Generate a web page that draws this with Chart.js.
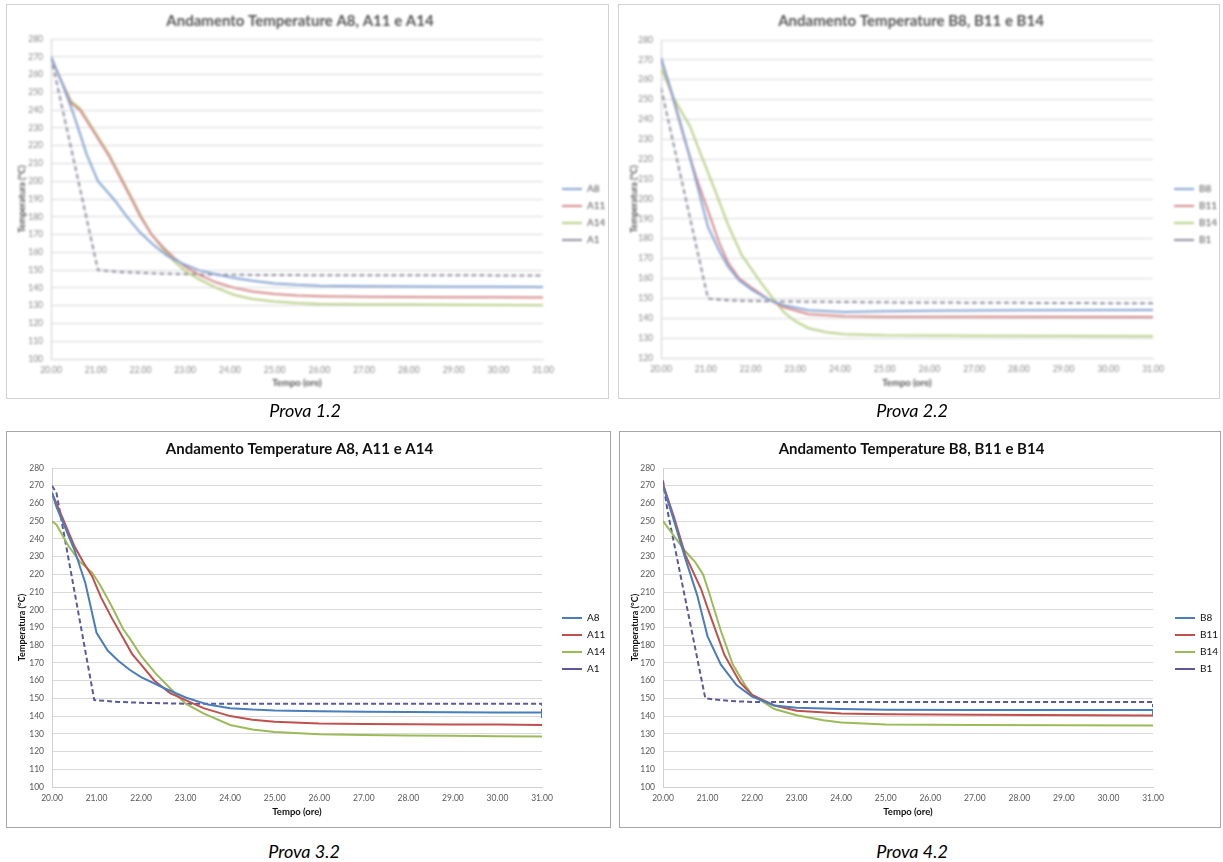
<!DOCTYPE html>
<html>
<head>
<meta charset="utf-8">
<script src="https://cdn.jsdelivr.net/npm/chart.js@4.4.1/dist/chart.umd.min.js"></script>
<style>
    body { margin: 0; background: #fff; width: 1223px; height: 862px; position: relative; overflow: hidden; font-family: Lato, "Open Sans", sans-serif; }
    .panel { position: absolute; box-sizing: border-box; border: 1px solid #a6a6a6; background: #fff; }
    .panel.faded { border-color: #d2d2d2; }
    .panel.faded canvas { filter: blur(0.9px); }
    .box { position: relative; width: 100%; height: 100%; }
    .cap { position: absolute; font: italic 18px Lato, sans-serif; color: #000; transform: translate(-50%, -50%); white-space: nowrap; }
    #p12 { left: 6px; top: 4px; width: 603px; height: 395px; }
    #p22 { left: 618px; top: 4px; width: 602px; height: 395px; }
    #p32 { left: 6px; top: 431px; width: 605px; height: 397px; }
    #p42 { left: 619px; top: 431px; width: 602px; height: 397px; }
</style>
</head>
<body>
<div class="panel faded" id="p12"><div class="box"><canvas id="chart12"></canvas></div></div>
<div class="panel faded" id="p22"><div class="box"><canvas id="chart22"></canvas></div></div>
<div class="panel" id="p32"><div class="box"><canvas id="chart32"></canvas></div></div>
<div class="panel" id="p42"><div class="box"><canvas id="chart42"></canvas></div></div>
<div class="cap" style="left:305px;top:410px">Prova 1.2</div>
<div class="cap" style="left:912px;top:410px">Prova 2.2</div>
<div class="cap" style="left:304px;top:851px">Prova 3.2</div>
<div class="cap" style="left:912px;top:851px">Prova 4.2</div>
<script>
// asse dei tempi (ore)
const hourRange = [20, 31];

// Prova 1.2  [ora, °C]
const p12Labels = ["A8", "A11", "A14", "A1"];
const p12Range = [100, 280];
const p12_A8 = [[20.0, 270], [20.25, 255], [20.5, 238], [20.8, 215], [21.05, 200], [21.4, 190], [21.7, 180], [22.0, 171], [22.3, 164], [22.6, 158], [23.0, 153], [23.3, 150], [23.7, 147.5], [24.1, 145.5], [24.5, 144], [25.0, 142.5], [25.5, 141.7], [26.0, 141.2], [27.0, 140.9], [28.0, 140.8], [29.0, 140.7], [30.0, 140.6], [31.0, 140.5]];
const p12_A11 = [[20.0, 270], [20.2, 258], [20.45, 244], [20.65, 240], [20.85, 232], [21.05, 224], [21.3, 214], [21.55, 202], [21.8, 190], [22.0, 180], [22.25, 170], [22.5, 163], [22.75, 157], [23.0, 152], [23.3, 147.5], [23.7, 143], [24.1, 140], [24.5, 138], [25.0, 136.5], [25.5, 135.7], [26.0, 135.3], [27.0, 135], [28.0, 134.9], [29.0, 134.8], [30.0, 134.7], [31.0, 134.6]];
const p12_A14 = [[20.0, 270], [20.2, 258], [20.45, 245], [20.65, 241], [20.85, 233], [21.05, 225], [21.3, 215], [21.55, 203], [21.8, 191], [22.0, 181], [22.25, 170], [22.5, 162], [22.75, 155], [23.0, 149.5], [23.3, 145], [23.7, 140], [24.1, 136], [24.5, 133.8], [25.0, 132.3], [25.5, 131.5], [26.0, 131], [27.0, 130.7], [28.0, 130.6], [29.0, 130.5], [30.0, 130.4], [31.0, 130.3]];
const p12_A1 = [[20.0, 270], [21.05, 150], [21.5, 149], [22.0, 148.5], [22.5, 148], [23.5, 147.5], [25.0, 147.2], [31.0, 147]];

// Prova 2.2
const p22Labels = ["B8", "B11", "B14", "B1"];
const p22Range = [120, 280];
const p22_B8 = [[20.0, 271], [20.25, 253], [20.5, 233], [20.75, 212], [21.05, 186], [21.3, 174], [21.5, 166], [21.75, 159], [22.05, 154], [22.4, 149.5], [22.75, 146.5], [23.3, 144], [24.1, 143.2], [25.0, 143.5], [26.0, 143.8], [28.0, 144], [31.0, 144.2]];
const p22_B11 = [[20.0, 271], [20.25, 252], [20.5, 232], [20.8, 210], [21.1, 191], [21.3, 178], [21.5, 168], [21.75, 160], [22.05, 155], [22.4, 149.5], [22.75, 145.5], [23.3, 142], [24.1, 141], [25.0, 140.8], [27.0, 140.7], [31.0, 140.6]];
const p22_B14 = [[20.0, 266], [20.3, 250], [20.65, 236.5], [20.9, 222], [21.18, 206], [21.5, 187], [21.8, 172], [22.2, 159], [22.5, 150], [22.75, 143], [23.0, 138.5], [23.3, 135], [23.7, 133], [24.1, 132], [25.0, 131.4], [27.0, 131.2], [31.0, 131]];
const p22_B1 = [[20.0, 256], [21.05, 150], [21.5, 149], [22.5, 148.5], [25.0, 148], [31.0, 147.5]];

// Prova 3.2
const p32Labels = ["A8", "A11", "A14", "A1"];
const p32Range = [100, 280];
const p32_A8 = [[20.0, 266], [20.1, 258], [20.25, 249], [20.5, 234], [20.75, 215], [21.0, 187], [21.25, 177], [21.5, 171], [21.75, 166], [22.0, 162], [22.5, 156], [23.0, 150.5], [23.5, 146.5], [24.0, 144.5], [24.5, 143.7], [25.0, 143.2], [26.0, 142.8], [27.0, 142.5], [28.0, 142.3], [29.0, 142.2], [30.0, 142.1], [31.0, 142], [31.0, 139]];
const p32_A11 = [[20.0, 266], [20.1, 260], [20.3, 248], [20.5, 236], [20.7, 227], [20.9, 219], [21.1, 207], [21.35, 195], [21.6, 184], [21.8, 175], [22.0, 169], [22.3, 160], [22.65, 153], [23.0, 149], [23.4, 144.5], [24.0, 140], [24.5, 138], [25.0, 136.8], [26.0, 135.8], [27.0, 135.5], [28.0, 135.4], [29.0, 135.3], [30.0, 135.2], [31.0, 135]];
const p32_A14 = [[20.0, 250], [20.1, 248], [20.37, 236], [20.63, 227], [20.9, 221], [21.08, 214], [21.34, 202], [21.6, 189], [21.77, 183], [22.0, 174], [22.33, 164], [22.68, 155], [23.0, 147], [23.4, 141.5], [24.0, 135], [24.5, 132.5], [25.0, 131], [26.0, 129.8], [27.0, 129.4], [28.0, 129.1], [29.0, 128.9], [30.0, 128.7], [31.0, 128.5]];
const p32_A1 = [[20.0, 270], [20.1, 266], [20.95, 149], [21.5, 148], [22.0, 147.5], [23.0, 147], [31.0, 147], [31.0, 141]];

// Prova 4.2
const p42Labels = ["B8", "B11", "B14", "B1"];
const p42Range = [100, 280];
const p42_B8 = [[20.0, 270], [20.25, 250], [20.5, 229], [20.77, 208], [21.0, 185], [21.3, 169], [21.65, 157.5], [22.0, 151], [22.5, 146], [23.0, 144.7], [24.0, 144], [25.0, 143.6], [27.0, 143.5], [31.0, 143.5], [31.0, 140]];
const p42_B11 = [[20.0, 271], [20.25, 252], [20.5, 231], [20.85, 212], [21.03, 199], [21.38, 174.5], [21.73, 159], [22.0, 152], [22.5, 146], [23.0, 143], [24.0, 141.5], [25.0, 141], [27.0, 140.8], [31.0, 140.3]];
const p42_B14 = [[20.0, 250], [20.5, 233], [20.72, 227], [20.9, 220], [21.03, 210], [21.3, 188], [21.57, 169], [21.84, 157.5], [22.0, 152], [22.5, 144], [23.0, 140.5], [23.6, 137.7], [24.0, 136.4], [25.0, 135.2], [27.0, 135], [31.0, 134.7]];
const p42_B1 = [[20.0, 273], [20.1, 256], [20.95, 150], [21.5, 148.5], [22.0, 148], [31.0, 148], [31.0, 145]];

const brightColors = ["#4a7ebb", "#c0504d", "#9bbb59", "#5a5a9a"];
const fadedColors = ["#86a3d2", "#d48a8a", "#b9cf86", "#8f8f9f"];

// sposta la legenda nel punto voluto (dopo il layout)
const legendPlace = {
    id: "legendPlace",
    beforeDraw(chart, args, opts) {
        const lg = chart.legend;
        if (!lg) return;
        const pad = lg.options.labels.padding;
        lg.left = opts.x - pad;
        lg.top = opts.y - pad;
        lg.right = lg.left + lg.width;
    },
};

function buildChart(id, spec) {
    const ctx = document.getElementById(id).getContext("2d");
    const datasets = spec.series.map((pts, i) => ({
        label: spec.labels[i],
        data: pts.map(([x, y]) => ({ x, y })),
        borderColor: spec.colors[i],
        backgroundColor: spec.colors[i],
        borderWidth: 2,
        borderDash: i === 3 ? [5, 3] : [],
        pointRadius: 0,
        tension: 0,
        fill: false,
    }));

    return new Chart(ctx, {
        type: "line",
        data: { datasets },
        options: {
            animation: false,
            responsive: true,
            maintainAspectRatio: false,
            events: [],
            layout: { padding: { left: 0, right: spec.padRight, top: 0, bottom: 0 } },
            scales: {
                x: {
                    type: "linear",
                    min: hourRange[0],
                    max: hourRange[1],
                    afterFit: (s) => { s.height = spec.xHeight; },
                    ticks: {
                        stepSize: 1,
                        autoSkip: false,
                        maxRotation: 0,
                        padding: 6,
                        color: spec.tickColor,
                        font: { size: 8.5 },
                        callback: (v) => v.toFixed(2),
                    },
                    grid: { display: false, drawTicks: false },
                    border: { color: "#d0d0d0" },
                    title: {
                        display: true,
                        text: "Tempo (ore)",
                        color: spec.textColor,
                        font: { size: 9.5, weight: "bold" },
                        padding: { top: 0, bottom: 9 },
                    },
                },
                y: {
                    min: spec.range[0],
                    max: spec.range[1],
                    afterFit: (s) => { s.width = spec.yWidth; },
                    ticks: {
                        stepSize: 10,
                        padding: 8,
                        color: spec.tickColor,
                        font: { size: 8.5 },
                    },
                    grid: { color: "#d9d9d9", drawTicks: false },
                    border: { color: "#d0d0d0" },
                    title: {
                        display: true,
                        text: "Temperatura (°C)",
                        color: spec.textColor,
                        font: { size: 9, weight: "bold" },
                        padding: { top: 10, bottom: 0 },
                    },
                },
            },
            plugins: {
                title: {
                    display: true,
                    text: spec.title,
                    color: spec.textColor,
                    font: { size: 15, weight: "bold" },
                    padding: { top: spec.titleTop, bottom: spec.titleBottom },
                },
                legend: {
                    position: "right",
                    align: "start",
                    maxWidth: 50,
                    labels: {
                        usePointStyle: true,
                        pointStyle: "line",
                        pointStyleWidth: 20,
                        padding: 7,
                        color: spec.textColor,
                        font: { size: 10 },
                    },
                },
                tooltip: { enabled: false },
                legendPlace: { x: spec.legendX, y: spec.legendY },
            },
        },
        plugins: [legendPlace],
    });
}

document.addEventListener("DOMContentLoaded", function () {
    Chart.defaults.font.family = "Lato, 'Open Sans', sans-serif";

    buildChart("chart12", {
        title: "Andamento Temperature A8, A11 e A14",
        labels: p12Labels, range: p12Range,
        series: [p12_A8, p12_A11, p12_A14, p12_A1],
        colors: fadedColors, textColor: "#555", tickColor: "#888",
        yWidth: 44, padRight: 15, xHeight: 39, titleTop: 7, titleBottom: 9,
        legendX: 555, legendY: 179,
    });
    buildChart("chart22", {
        title: "Andamento Temperature B8, B11 e B14",
        labels: p22Labels, range: p22Range,
        series: [p22_B8, p22_B11, p22_B14, p22_B1],
        colors: fadedColors, textColor: "#555", tickColor: "#888",
        yWidth: 42, padRight: 16, xHeight: 40, titleTop: 7, titleBottom: 10,
        legendX: 555, legendY: 179,
    });
    buildChart("chart32", {
        title: "Andamento Temperature A8, A11 e A14",
        labels: p32Labels, range: p32Range,
        series: [p32_A8, p32_A11, p32_A14, p32_A1],
        colors: brightColors, textColor: "#111", tickColor: "#595959",
        yWidth: 45, padRight: 18, xHeight: 40, titleTop: 8, titleBottom: 10,
        legendX: 555, legendY: 181,
    });
    buildChart("chart42", {
        title: "Andamento Temperature B8, B11 e B14",
        labels: p42Labels, range: p42Range,
        series: [p42_B8, p42_B11, p42_B14, p42_B1],
        colors: brightColors, textColor: "#111", tickColor: "#595959",
        yWidth: 43, padRight: 17, xHeight: 40, titleTop: 8, titleBottom: 10,
        legendX: 555, legendY: 181,
    });
});
</script>
</body>
</html>
